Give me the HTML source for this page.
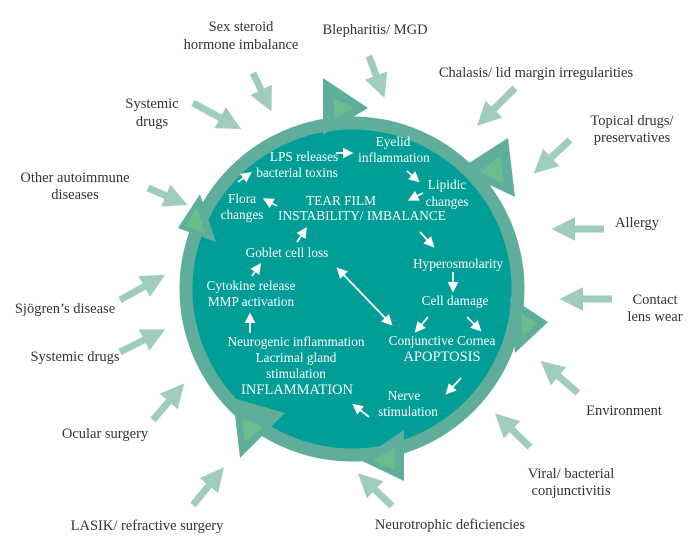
<!DOCTYPE html>
<html><head><style>
body{margin:0;background:#fff}
svg{display:block}
text{font-family:"Liberation Serif",serif}
.o{fill:#333;font-size:14.5px}
.w{fill:#fff;font-size:13.3px}
</style></head><body>
<svg width="700" height="560" viewBox="0 0 700 560" xmlns="http://www.w3.org/2000/svg">
<defs>
<marker id="ah" markerWidth="3.4" markerHeight="3.4" refX="1.6" refY="1.7" orient="auto" markerUnits="strokeWidth">
<path d="M0,0 L3.4,1.7 L0,3.4 Z" fill="#9fccbd"/></marker>
<marker id="wh" markerWidth="6" markerHeight="6" refX="4" refY="3" orient="auto" markerUnits="strokeWidth">
<path d="M0,0 L6,3 L0,6 Z" fill="#fff"/></marker>
<marker id="ws" markerWidth="6" markerHeight="6" refX="2" refY="3" orient="auto" markerUnits="strokeWidth">
<path d="M6,0 L0,3 L6,6 Z" fill="#fff"/></marker>
</defs>
<g stroke="#9fccbd" stroke-width="7" marker-end="url(#ah)">
<line x1="253" y1="73" x2="266" y2="100"/>
<line x1="369" y1="56" x2="380" y2="86"/>
<line x1="515" y1="88" x2="486" y2="117"/>
<line x1="570" y1="140" x2="543" y2="165"/>
<line x1="604" y1="229" x2="564" y2="229"/>
<line x1="612" y1="299" x2="572" y2="299"/>
<line x1="578" y1="393" x2="550" y2="369"/>
<line x1="530" y1="447" x2="504" y2="422"/>
<line x1="392" y1="506" x2="367" y2="482"/>
<line x1="193" y1="505" x2="216" y2="477"/>
<line x1="153" y1="420" x2="176" y2="393"/>
<line x1="120" y1="352" x2="154" y2="335"/>
<line x1="120" y1="300" x2="154" y2="281"/>
<line x1="148" y1="188" x2="176" y2="200"/>
<line x1="193" y1="103" x2="230" y2="123"/>
</g>
<circle cx="352" cy="289" r="166" fill="#009e96" stroke="#5fad9b" stroke-width="13"/>
<g fill="#5fad9b">
<polygon points="323,78 323,135 368,108"/>
<polygon points="508,138 515,197 458,170"/>
<polygon points="510,297 548,322 515,353"/>
<polygon points="404,430 404,481 360,460"/>
<polygon points="233,398 240,458 285,413"/>
<polygon points="178,228 216,242 200,194"/>
</g>
<g fill="#6bbd8e">
<polygon points="334,98 334,119 354,108"/>
<polygon points="500,156 504,184 480,172"/>
<polygon points="521,313 537,323 523,336"/>
<polygon points="395,447 395,470 373,461"/>
<polygon points="242,418 245,442 263,427"/>
<polygon points="185,226 205,233 197,208"/>
</g>
<g stroke="#fff" stroke-width="1.8" fill="none">
<g marker-end="url(#wh)">
<line x1="336" y1="153" x2="350" y2="153"/>
<line x1="407" y1="171" x2="417" y2="180"/>
<line x1="423" y1="193" x2="411" y2="199"/>
<line x1="420" y1="232" x2="432" y2="245"/>
<line x1="453" y1="272" x2="453" y2="289"/>
<line x1="428" y1="317" x2="417" y2="330"/>
<line x1="467" y1="317" x2="479" y2="329"/>
<line x1="461" y1="378" x2="448" y2="392"/>
<line x1="369" y1="417" x2="355" y2="406"/>
<line x1="250" y1="333" x2="250" y2="316"/>
<line x1="252" y1="276" x2="259" y2="266"/>
<line x1="238" y1="182" x2="249" y2="174"/>
<line x1="277" y1="206" x2="266" y2="200"/>
<line x1="297" y1="242" x2="305" y2="230"/>
<line x1="339" y1="270" x2="390" y2="323" marker-start="url(#ws)"/>
</g>
</g>
<g class="w" text-anchor="middle">
<text x="304" y="161">LPS releases</text>
<text x="297" y="177">bacterial toxins</text>
<text x="393" y="146">Eyelid</text>
<text x="394" y="162">inflammation</text>
<text x="447" y="189">Lipidic</text>
<text x="447" y="206">changes</text>
<text x="242" y="203">Flora</text>
<text x="242" y="219">changes</text>
<text x="341" y="205">TEAR FILM</text>
<text x="362" y="220">INSTABILITY/ IMBALANCE</text>
<text x="287" y="257">Goblet cell loss</text>
<text x="458" y="268">Hyperosmolarity</text>
<text x="455" y="305">Cell damage</text>
<text x="251" y="290">Cytokine release</text>
<text x="251" y="306">MMP activation</text>
<text x="296" y="346">Neurogenic inflammation</text>
<text x="296" y="362">Lacrimal gland</text>
<text x="296" y="378">stimulation</text>
<text x="297" y="394" style="font-size:14.5px">INFLAMMATION</text>
<text x="442" y="345">Conjunctive Cornea</text>
<text x="442" y="361" style="font-size:14.5px">APOPTOSIS</text>
<text x="404" y="400">Nerve</text>
<text x="408" y="416">stimulation</text>
</g>
<g class="o" text-anchor="middle">
<text x="241" y="31">Sex steroid</text>
<text x="241" y="49">hormone imbalance</text>
<text x="375" y="34">Blepharitis/ MGD</text>
<text x="536" y="77">Chalasis/ lid margin irregularities</text>
<text x="632" y="125">Topical drugs/</text>
<text x="632" y="142">preservatives</text>
<text x="637" y="227">Allergy</text>
<text x="655" y="304">Contact</text>
<text x="655" y="321">lens wear</text>
<text x="624" y="415">Environment</text>
<text x="571" y="478">Viral/ bacterial</text>
<text x="571" y="495">conjunctivitis</text>
<text x="450" y="529">Neurotrophic deficiencies</text>
<text x="147" y="530">LASIK/ refractive surgery</text>
<text x="105" y="438">Ocular surgery</text>
<text x="75" y="361">Systemic drugs</text>
<text x="65" y="313">Sjögren’s disease</text>
<text x="75" y="182">Other autoimmune</text>
<text x="75" y="199">diseases</text>
<text x="152" y="108">Systemic</text>
<text x="152" y="126">drugs</text>
</g>
</svg>
</body></html>
